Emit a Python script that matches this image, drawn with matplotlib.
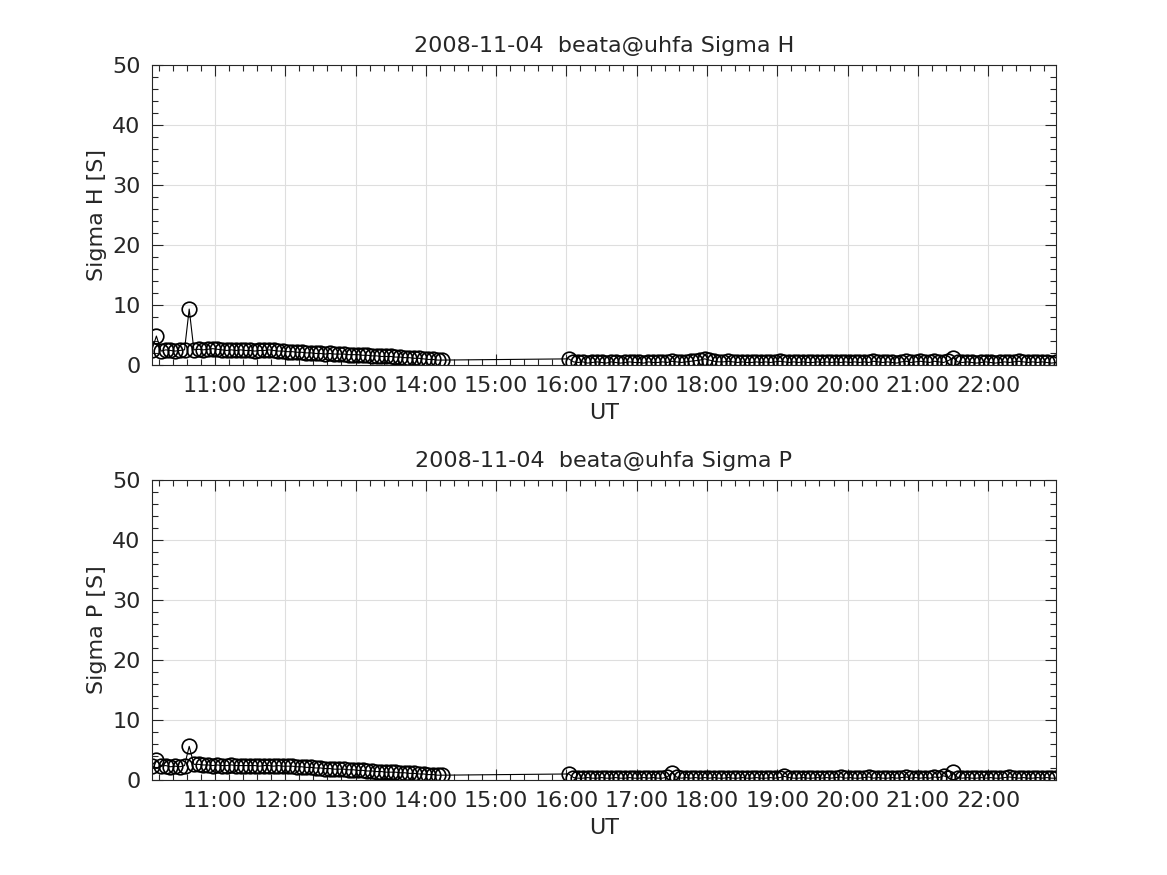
import datetime as dt
import matplotlib
matplotlib.use("Agg")
import matplotlib.pyplot as plt
import matplotlib.dates as mdates
from matplotlib.ticker import MultipleLocator

day = "2008-11-04"
station = "beata@uhfa"

# sample times (4 min cadence), two blocks with a gap in between
t_start1, n1 = dt.datetime(2008, 11, 4, 10, 6), 63
t_start2, n2 = dt.datetime(2008, 11, 4, 16, 2), 105
step = dt.timedelta(minutes=4)
times1 = [t_start1 + i * step for i in range(n1)]
times2 = [t_start2 + i * step for i in range(n2)]

sigma_h1 = [2.4, 4.8, 2.3, 2.5, 2.4, 2.3, 2.4, 2.5, 9.3, 2.5,
            2.6, 2.5, 2.6, 2.7, 2.6, 2.5, 2.4, 2.5, 2.4, 2.5,
            2.4, 2.4, 2.3, 2.4, 2.4, 2.5, 2.4, 2.3, 2.3, 2.2,
            2.2, 2.1, 2.1, 2.0, 2.0, 1.9, 1.9, 1.8, 1.9, 1.8,
            1.8, 1.8, 1.7, 1.7, 1.7, 1.6, 1.6, 1.5, 1.5, 1.4,
            1.4, 1.4, 1.3, 1.3, 1.2, 1.2, 1.1, 1.1, 1.0, 0.9,
            0.9, 0.8, 0.8]
sigma_h2 = [1.0, 0.5, 0.4, 0.5, 0.3, 0.4, 0.5, 0.4, 0.3, 0.5,
            0.4, 0.3, 0.4, 0.5, 0.4, 0.4, 0.3, 0.5, 0.4, 0.4,
            0.5, 0.4, 0.6, 0.5, 0.4, 0.5, 0.6, 0.7, 0.8, 1.0,
            0.8, 0.6, 0.5, 0.5, 0.6, 0.5, 0.4, 0.5, 0.4, 0.4,
            0.5, 0.4, 0.5, 0.4, 0.5, 0.6, 0.5, 0.4, 0.5, 0.4,
            0.5, 0.4, 0.4, 0.5, 0.4, 0.5, 0.4, 0.5, 0.4, 0.5,
            0.4, 0.5, 0.4, 0.5, 0.4, 0.6, 0.5, 0.4, 0.5, 0.4,
            0.3, 0.5, 0.6, 0.4, 0.5, 0.6, 0.5, 0.4, 0.6, 0.5,
            0.4, 0.7, 1.2, 0.5, 0.4, 0.5, 0.4, 0.3, 0.4, 0.5,
            0.4, 0.3, 0.4, 0.5, 0.4, 0.5, 0.6, 0.5, 0.4, 0.5,
            0.4, 0.5, 0.4, 0.3, 0.4]

sigma_p1 = [2.4, 3.3, 2.3, 2.4, 2.2, 2.3, 2.2, 2.4, 5.6, 2.6,
            2.6, 2.5, 2.5, 2.4, 2.5, 2.4, 2.4, 2.5, 2.4, 2.4,
            2.4, 2.4, 2.4, 2.3, 2.4, 2.4, 2.3, 2.4, 2.3, 2.3,
            2.3, 2.2, 2.2, 2.1, 2.1, 2.0, 2.0, 1.9, 1.9, 1.8,
            1.8, 1.8, 1.7, 1.7, 1.6, 1.6, 1.5, 1.5, 1.4, 1.4,
            1.3, 1.3, 1.3, 1.2, 1.2, 1.1, 1.1, 1.0, 1.0, 0.9,
            0.9, 0.8, 0.8]
sigma_p2 = [1.0, 0.4, 0.3, 0.3, 0.4, 0.3, 0.3, 0.4, 0.3, 0.3,
            0.4, 0.3, 0.3, 0.4, 0.3, 0.3, 0.4, 0.3, 0.4, 0.3,
            0.3, 0.5, 1.2, 0.5, 0.3, 0.4, 0.3, 0.4, 0.3, 0.4,
            0.3, 0.4, 0.3, 0.3, 0.4, 0.3, 0.3, 0.4, 0.3, 0.3,
            0.4, 0.3, 0.3, 0.4, 0.3, 0.4, 0.6, 0.4, 0.3, 0.3,
            0.4, 0.3, 0.3, 0.4, 0.3, 0.4, 0.3, 0.4, 0.5, 0.3,
            0.4, 0.3, 0.3, 0.4, 0.5, 0.3, 0.4, 0.3, 0.3, 0.4,
            0.3, 0.4, 0.5, 0.3, 0.4, 0.3, 0.4, 0.3, 0.5, 0.4,
            0.7, 0.4, 1.3, 0.4, 0.3, 0.4, 0.3, 0.3, 0.4, 0.3,
            0.4, 0.3, 0.3, 0.4, 0.5, 0.4, 0.3, 0.4, 0.3, 0.3,
            0.4, 0.3, 0.4, 0.3, 0.3]

times = times1 + times2
sigma_h = sigma_h1 + sigma_h2
sigma_p = sigma_p1 + sigma_p2

plt.rcParams['font.family'] = ['DejaVu Sans']

fig = plt.figure(figsize=(11.67, 8.75), dpi=100)
ax1 = fig.add_axes([0.13, 0.583, 0.775, 0.343])
ax2 = fig.add_axes([0.13, 0.1086, 0.775, 0.343])

fs = 16
for ax, vals, name in [(ax1, sigma_h, "Sigma H"), (ax2, sigma_p, "Sigma P")]:
    ax.plot(times, vals, color='k', lw=0.8, marker='o', ms=10.5,
            mfc='none', mec='k', mew=1.2)
    ax.set_xlim(times[0], times[-1])
    ax.set_ylim(0, 50)
    ax.yaxis.set_major_locator(MultipleLocator(10))
    ax.yaxis.set_minor_locator(MultipleLocator(2))
    ax.xaxis.set_major_locator(mdates.HourLocator())
    ax.xaxis.set_minor_locator(mdates.MinuteLocator(byminute=[0, 12, 24, 36, 48]))
    ax.xaxis.set_major_formatter(mdates.DateFormatter('%H:%M'))
    ax.grid(True, which='major', color='#dedede', lw=0.8)
    ax.set_axisbelow(True)
    ax.tick_params(which='both', direction='in', top=True, right=True,
                   labelsize=fs, colors='#262626')
    ax.tick_params(which='major', length=8, width=0.8, pad=8)
    ax.tick_params(which='minor', length=4, width=0.8)
    for s in ax.spines.values():
        s.set_color('#262626')
        s.set_linewidth(0.8)
    ax.set_xlabel("UT", fontsize=fs, color='#262626', labelpad=5)
    ax.set_ylabel(name + " [S]", fontsize=fs, color='#262626', labelpad=4)
    ax.set_title(day + "  " + station + " " + name, fontsize=fs,
                 color='#262626', pad=9)

fig.savefig("out.png")
